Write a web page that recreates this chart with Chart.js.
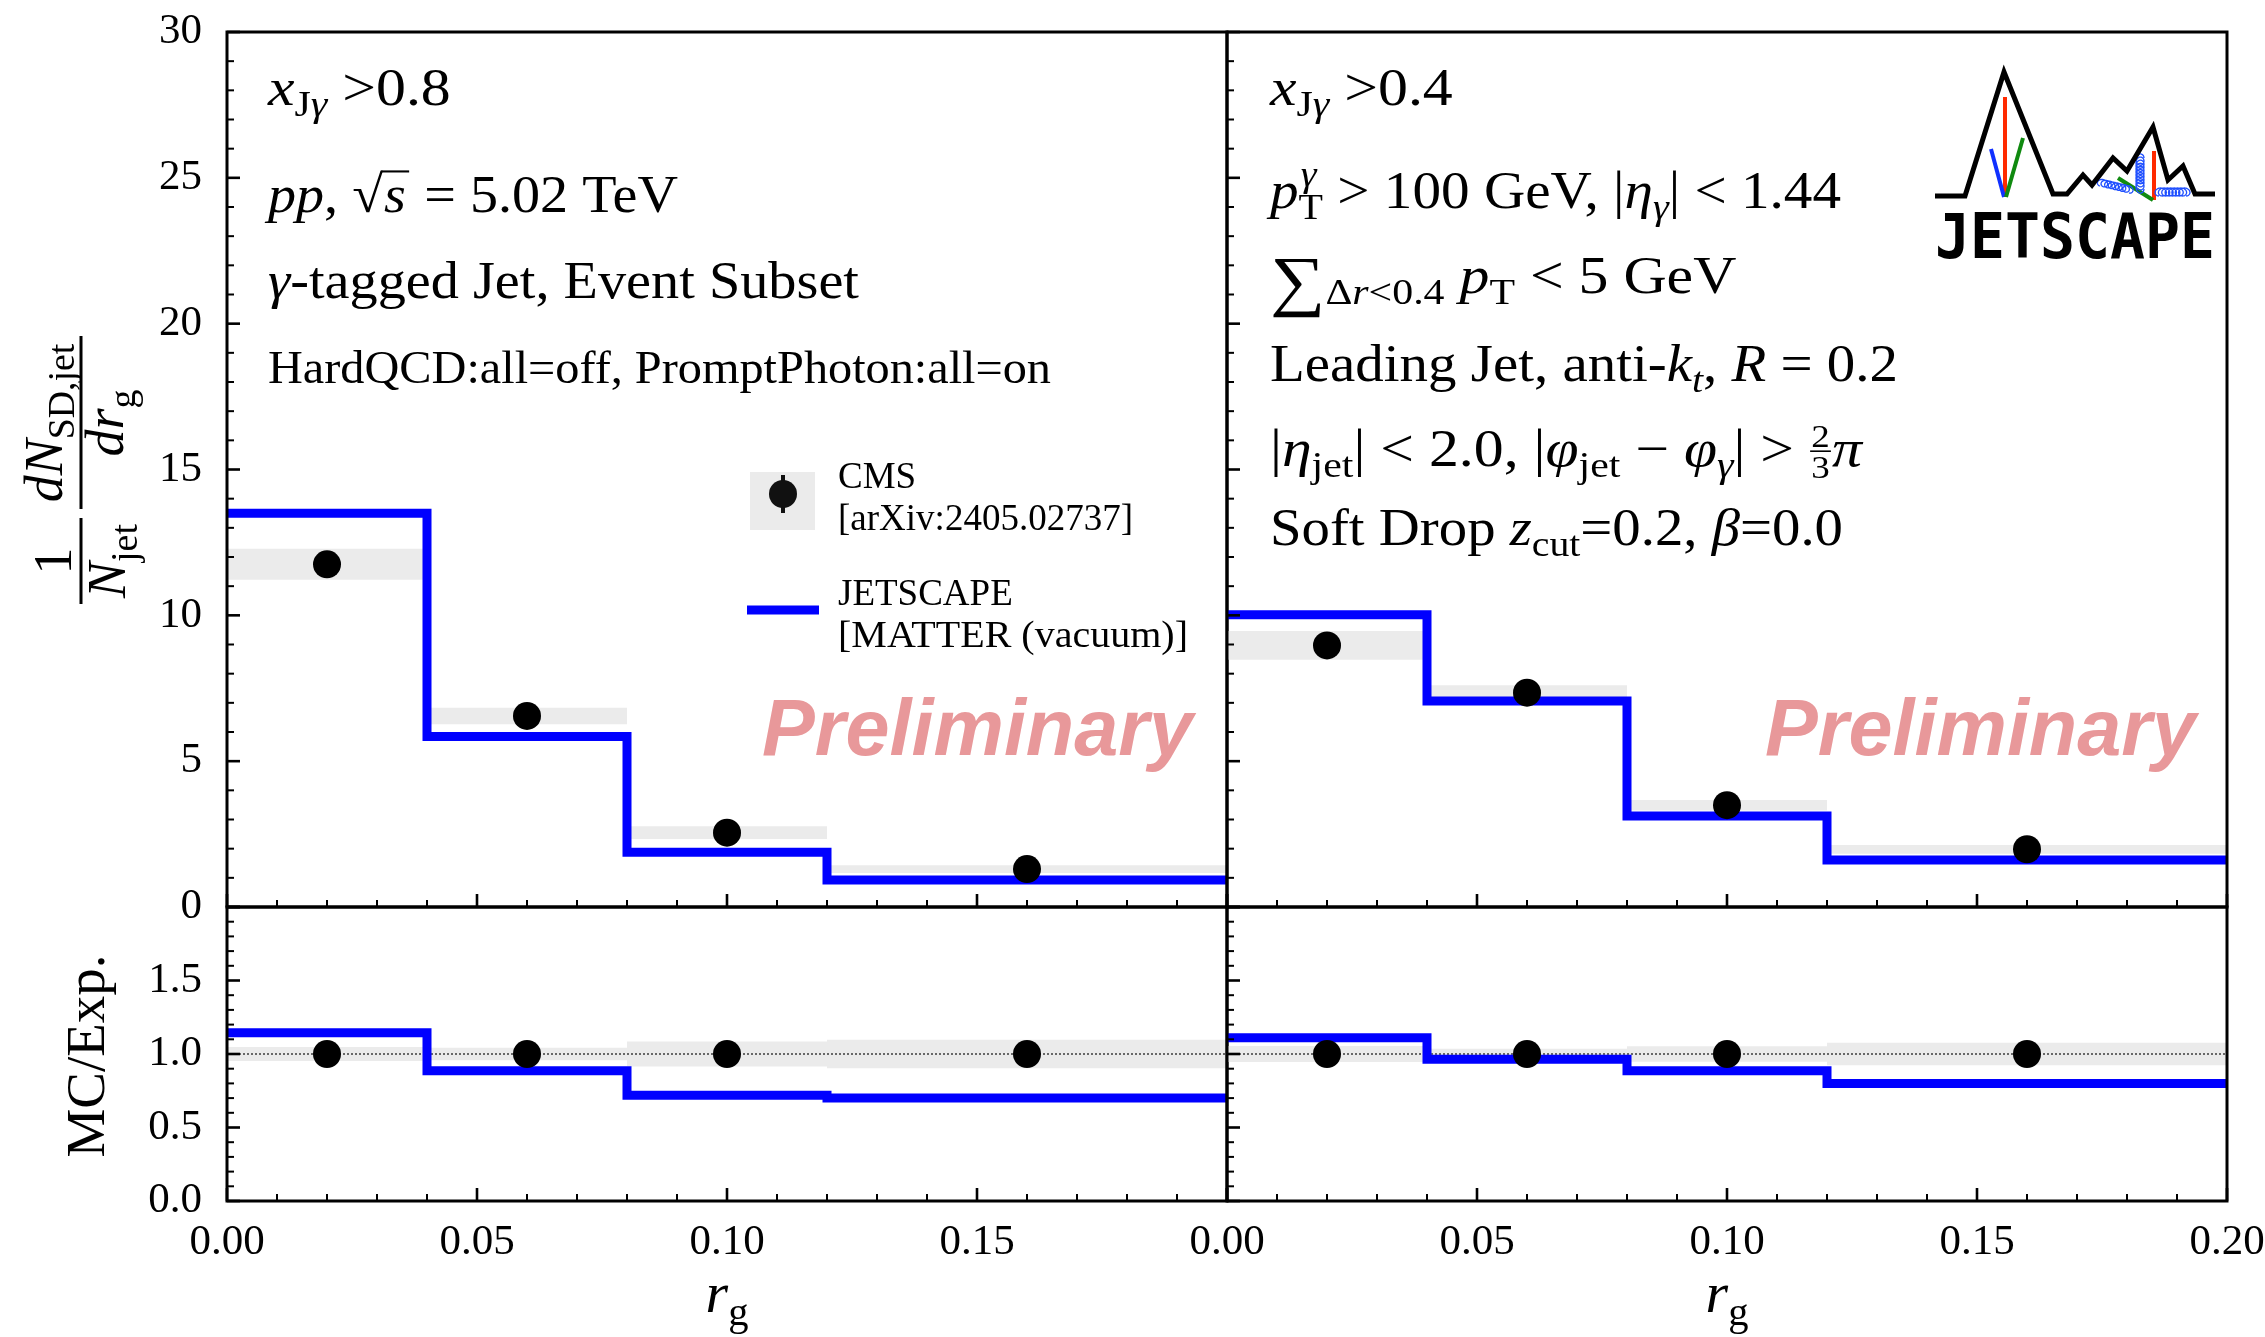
<!DOCTYPE html>
<html>
<head>
<meta charset="utf-8">
<script src="https://cdn.jsdelivr.net/npm/chart.js@4.4.1/dist/chart.umd.min.js"></script>
<style>
  html, body { margin: 0; padding: 0; background: #fff; }
  #wrap { position: relative; width: 2265px; height: 1337px; overflow: hidden; background: #fff; }
  #wrap canvas { position: absolute; left: 0; top: 0; }
</style>
</head>
<body>
<div id="wrap">
  <canvas id="topLeft" width="2265" height="1337"></canvas>
  <canvas id="topRight" width="2265" height="1337"></canvas>
  <canvas id="ratioLeft" width="2265" height="1337"></canvas>
  <canvas id="ratioRight" width="2265" height="1337"></canvas>
</div>
<script>
// r_g binning
const binEdges = [0, 0.04, 0.08, 0.12, 0.20];
const binCenters = [0.02, 0.06, 0.10, 0.16];

// x_Jgamma > 0.8
const cmsLeft = [11.75, 6.55, 2.55, 1.30];
const cmsSysLeft = [0.53, 0.28, 0.22, 0.13];
const jetscapeLeft = [13.5, 5.85, 1.88, 0.93];
const ratioLeft = [1.145, 0.886, 0.72, 0.70];
const ratioBandLeft = [0.047, 0.043, 0.085, 0.097];

// x_Jgamma > 0.4
const cmsRight = [8.97, 7.35, 3.49, 1.98];
const cmsSysRight = [0.49, 0.25, 0.18, 0.15];
const jetscapeRight = [10.02, 7.06, 3.12, 1.61];
const ratioRight = [1.11, 0.964, 0.886, 0.80];
const ratioBandRight = [0.055, 0.035, 0.052, 0.077];

const ratioCms = [1, 1, 1, 1];
const unity = 1;

// ticks
const xTicks = [0, 0.05, 0.10, 0.15, 0.20];
const yTicksTop = [0, 5, 10, 15, 20, 25, 30];
const yTicksRatio = [0.0, 0.5, 1.0, 1.5];

const SERIF = '"Liberation Serif", "DejaVu Serif", serif';
const BLUE = '#0000ff';
const BAND = '#ebebeb';
const tickFont = { family: 'Liberation Serif', size: 43 };

function fontStr(size, it) {
  return (it ? 'italic ' : '') + size.toFixed(1) + 'px ' + SERIF;
}

// little text pieces for the math-ish labels
const R = t => ({ t });
const I = t => ({ t, it: true });
const SUB = (t, it) => ({ t, it, s: 0.7, dy: 0.22 });

function layoutParts(ctx, size, parts, draw) {
  let cx = 0;
  for (const p of parts) {
    if (p.frac) {
      const fs = size * 0.62;
      ctx.font = fontStr(fs, false);
      const w = Math.max(ctx.measureText(p.frac[0]).width, ctx.measureText(p.frac[1]).width) + 4;
      if (draw) {
        ctx.textAlign = 'center';
        ctx.fillText(p.frac[0], cx + w / 2, -size * 0.37);
        ctx.fillText(p.frac[1], cx + w / 2, size * 0.24);
        ctx.fillRect(cx + 1, -size * 0.3, w - 2, 1.6);
        ctx.textAlign = 'left';
      }
      cx += w;
    } else if (p.sqrt) {
      ctx.font = fontStr(size, false);
      const wr = ctx.measureText('\u221A').width;
      ctx.font = fontStr(size, true);
      const ws = ctx.measureText(p.sqrt).width;
      if (draw) {
        ctx.font = fontStr(size, false);
        ctx.fillText('\u221A', cx, 0);
        ctx.font = fontStr(size, true);
        ctx.fillText(p.sqrt, cx + wr + 1, 0);
        ctx.fillRect(cx + wr - 2, -size * 0.80, ws + 6, Math.max(1.5, size * 0.04));
      }
      cx += wr + ws + 5;
    } else if (p.ss) {
      const fs = size * 0.7;
      ctx.font = fontStr(fs, true);
      const w1 = ctx.measureText(p.ss[0]).width;
      ctx.font = fontStr(fs, false);
      const w2 = ctx.measureText(p.ss[1]).width;
      if (draw) {
        ctx.font = fontStr(fs, true);
        ctx.fillText(p.ss[0], cx + 2, -size * 0.42);
        ctx.font = fontStr(fs, false);
        ctx.fillText(p.ss[1], cx, size * 0.22);
      }
      cx += Math.max(w1 + 2, w2);
    } else {
      const fs = size * (p.s || 1);
      ctx.font = fontStr(fs, p.it);
      if (draw) ctx.fillText(p.t, cx, size * (p.dy || 0));
      cx += ctx.measureText(p.t).width;
    }
  }
  return cx;
}

function drawLine(ctx, x, y, size, parts, targetW, align) {
  ctx.save();
  ctx.textAlign = 'left';
  ctx.textBaseline = 'alphabetic';
  ctx.fillStyle = '#000';
  const w = layoutParts(ctx, size, parts, false);
  let k = targetW ? targetW / w : 1;
  k = Math.min(1.15, Math.max(0.88, k));
  const x0 = align === 'center' ? x - (w * k) / 2 : x;
  ctx.translate(x0, y);
  ctx.scale(k, 1);
  layoutParts(ctx, size, parts, true);
  ctx.restore();
  return w * k;
}

// histogram: one point per bin edge, the last edge repeats the last bin value.
// Chart.js 'before' stepping draws horizontally first, so each bin is flat.
const steps = vals => binEdges.map((x, i) => ({ x, y: vals[Math.min(i, vals.length - 1)] }));

function bandSets(center, err) {
  const hi = center.map((v, i) => v + err[i]);
  const lo = center.map((v, i) => v - err[i]);
  return [
    { data: steps(hi), stepped: 'before', borderWidth: 0, borderColor: 'transparent', pointRadius: 0, fill: false, order: 3 },
    { data: steps(lo), stepped: 'before', borderWidth: 0, borderColor: 'transparent', pointRadius: 0, fill: '-1', backgroundColor: BAND, order: 4 }
  ];
}

// inward ticks + frame, matplotlib style
function framePlugin(p) {
  return {
    id: 'frame',
    afterDraw(chart) {
      const { ctx, chartArea: a } = chart;
      const xs = chart.scales.x, ys = chart.scales.y;
      ctx.save();
      ctx.strokeStyle = '#000';
      for (let i = 0; i <= 20; i++) {
        const major = i % 5 === 0;
        const px = xs.getPixelForValue(i / 100);
        ctx.lineWidth = major ? 2.6 : 2;
        ctx.beginPath();
        ctx.moveTo(px, a.bottom);
        ctx.lineTo(px, a.bottom - (major ? 13 : 7));
        ctx.stroke();
      }
      for (let i = 0; i <= p.yMinorCount; i++) {
        const major = i % 5 === 0;
        const py = ys.getPixelForValue(ys.min + i * p.yMinorStep);
        ctx.lineWidth = major ? 2.6 : 2;
        ctx.beginPath();
        ctx.moveTo(a.left, py);
        ctx.lineTo(a.left + (major ? 13 : 7), py);
        ctx.stroke();
      }
      ctx.lineWidth = 3;
      ctx.strokeRect(a.left, a.top, a.right - a.left, a.bottom - a.top);
      ctx.restore();
      if (p.extra) p.extra(ctx);
    }
  };
}

function makePanel(id, p) {
  const datasets = [
    { data: binCenters.map((x, i) => ({ x, y: p.points[i] })), showLine: false, pointRadius: 14,
      pointBackgroundColor: '#000', pointBorderWidth: 0, order: 0 },
    { data: steps(p.model), stepped: 'before', borderColor: BLUE, borderWidth: 9, pointRadius: 0, fill: false, order: 1 }
  ];
  if (p.unity) {
    datasets.push({ data: [{ x: binEdges[0], y: unity }, { x: binEdges[binEdges.length - 1], y: unity }],
      borderColor: '#222', borderWidth: 1.3, borderDash: [2, 2], pointRadius: 0, fill: false, order: 2 });
  }
  datasets.push(...bandSets(p.band[0], p.band[1]));

  return new Chart(document.getElementById(id), {
    type: 'line',
    data: { datasets },
    plugins: [framePlugin(p)],
    options: {
      animation: false,
      responsive: false,
      devicePixelRatio: 1,
      events: [],
      layout: { padding: p.pad },
      plugins: { legend: { display: false }, tooltip: { enabled: false } },
      scales: {
        x: {
          type: 'linear', min: 0, max: 0.2,
          display: p.xLabels,
          grid: { display: false }, border: { display: false },
          afterBuildTicks: s => { s.ticks = xTicks.map(v => ({ value: v })); },
          afterFit: s => { s.height = p.xLabels ? 136 : 0; s.paddingLeft = 0; s.paddingRight = 0; },
          ticks: {
            padding: 8, maxRotation: 0, autoSkip: false, color: '#000', font: tickFont,
            callback: v => (p.hideLastX && Math.abs(v - 0.2) < 1e-9) ? '' : v.toFixed(2)
          }
        },
        y: {
          type: 'linear', min: p.yMin, max: p.yMax,
          display: p.yLabels,
          grid: { display: false }, border: { display: false },
          afterBuildTicks: s => { s.ticks = p.yTicks.map(v => ({ value: v })); },
          afterFit: s => { s.width = p.yLabels ? 227 : 0; s.paddingTop = 0; s.paddingBottom = 0; },
          ticks: { padding: 17, color: '#000', font: tickFont, callback: p.yFmt }
        }
      }
    }
  });
}

// ---------- decorations ----------
function drawTopLeftExtras(ctx) {
  drawLine(ctx, 268, 105, 52, [I('x'), SUB('J'), SUB('\u03B3', true), R(' >0.8')], 202);
  drawLine(ctx, 268, 212, 52, [I('pp'), R(', '), { sqrt: 's' }, R(' = 5.02 TeV')], 410);
  drawLine(ctx, 268, 298, 52, [I('\u03B3'), R('-tagged Jet, Event Subset')], 591);
  drawLine(ctx, 268, 383, 46, [R('HardQCD:all=off, PromptPhoton:all=on')], 783);

  // legend
  ctx.save();
  ctx.fillStyle = BAND;
  ctx.fillRect(750, 472, 65, 58);
  ctx.fillStyle = '#111';
  ctx.fillRect(781, 475, 4, 38);
  ctx.beginPath();
  ctx.arc(783, 494, 14, 0, Math.PI * 2);
  ctx.fill();
  ctx.strokeStyle = BLUE;
  ctx.lineWidth = 9;
  ctx.beginPath();
  ctx.moveTo(747, 610);
  ctx.lineTo(819, 610);
  ctx.stroke();
  ctx.restore();
  drawLine(ctx, 838, 488, 37, [R('CMS')]);
  drawLine(ctx, 838, 530, 37, [R('[arXiv:2405.02737]')], 295);
  drawLine(ctx, 838, 605, 37, [R('JETSCAPE')]);
  drawLine(ctx, 838, 647, 37, [R('[MATTER (vacuum)]')], 350);

  drawPreliminary(ctx, 762, 755);
  drawYLabelTop(ctx);
}

function drawPreliminary(ctx, x, y) {
  ctx.save();
  ctx.font = 'italic bold 80px "Liberation Sans", Arial, sans-serif';
  ctx.fillStyle = '#e8989a';
  ctx.textBaseline = 'alphabetic';
  ctx.textAlign = 'left';
  const w = ctx.measureText('Preliminary').width;
  ctx.translate(x, y);
  ctx.scale(431 / w, 1);
  ctx.fillText('Preliminary', 0, 0);
  ctx.restore();
}

function drawYLabelTop(ctx) {
  ctx.save();
  ctx.translate(81, 470);
  ctx.rotate(-Math.PI / 2);
  ctx.fillStyle = '#000';
  const S = 54;
  // 1 / N_jet
  ctx.fillRect(-134, -1.5, 86, 3);
  drawLine(ctx, -91, -10, S, [R('1')], 0, 'center');
  drawLine(ctx, -91, 44, S, [I('N'), SUB('jet')], 0, 'center');
  // dN_SD,jet / dr_g
  ctx.fillRect(-39, -1.5, 173, 3);
  drawLine(ctx, 47, -19, S, [I('dN'), SUB('SD,jet')], 0, 'center');
  drawLine(ctx, 47, 42, S, [I('dr'), SUB('g')], 0, 'center');
  ctx.restore();
}

function drawYLabelRatio(ctx) {
  ctx.save();
  ctx.translate(104, 1056);
  ctx.rotate(-Math.PI / 2);
  drawLine(ctx, 0, 0, 54, [R('MC/Exp.')], 203, 'center');
  ctx.restore();
}

function drawXLabel(ctx, cx) {
  drawLine(ctx, cx, 1312, 58, [I('r'), SUB('g')], 0, 'center');
}

function coil(ctx, x1, y1, x2, y2, n, r) {
  const L = Math.hypot(x2 - x1, y2 - y1);
  const ux = (x2 - x1) / L, uy = (y2 - y1) / L;
  const c = L / (2 * Math.PI * n);
  ctx.beginPath();
  for (let k = 0; k <= n * 40; k++) {
    const th = (k / (n * 40)) * 2 * Math.PI * n;
    const a = c * th - r * Math.sin(th) * 0.6;
    const b = -r * (1 - Math.cos(th)) / 2;
    const px = x1 + ux * a - uy * b;
    const py = y1 + uy * a + ux * b;
    if (k === 0) ctx.moveTo(px, py); else ctx.lineTo(px, py);
  }
  ctx.stroke();
}

function drawLogo(ctx) {
  ctx.save();
  ctx.lineJoin = 'miter';
  ctx.lineCap = 'butt';
  // coloured partons
  ctx.lineWidth = 4;
  ctx.strokeStyle = '#ff2a00';
  ctx.beginPath(); ctx.moveTo(2005, 97); ctx.lineTo(2005, 197); ctx.stroke();
  ctx.beginPath(); ctx.moveTo(2154, 151); ctx.lineTo(2154, 200); ctx.stroke();
  ctx.strokeStyle = '#1030ff';
  ctx.beginPath(); ctx.moveTo(1991, 149); ctx.lineTo(2004, 197); ctx.stroke();
  ctx.strokeStyle = '#108a10';
  ctx.beginPath(); ctx.moveTo(2023, 138); ctx.lineTo(2006, 197); ctx.stroke();
  ctx.beginPath(); ctx.moveTo(2118, 178); ctx.lineTo(2153, 200); ctx.stroke();
  ctx.strokeStyle = '#2050ff';
  ctx.lineWidth = 1.3;
  coil(ctx, 2100, 186, 2129, 193, 8, 7);
  coil(ctx, 2144, 189, 2144, 158, 10, 8);
  coil(ctx, 2159, 196, 2186, 196, 8, 8);
  // mountain outline
  ctx.strokeStyle = '#000';
  ctx.lineWidth = 5;
  const pts = [[1935, 196], [1965, 196], [2004, 72], [2053, 194], [2067, 194], [2083, 175], [2092, 185],
    [2113, 158], [2127, 171], [2153, 127], [2168, 180], [2183, 166], [2195, 194], [2215, 194]];
  ctx.beginPath();
  pts.forEach(([x, y], i) => (i ? ctx.lineTo(x, y) : ctx.moveTo(x, y)));
  ctx.stroke();
  // word mark
  ctx.fillStyle = '#000';
  ctx.font = 'bold 62px "DejaVu Sans Mono", monospace';
  ctx.textBaseline = 'alphabetic';
  ctx.textAlign = 'left';
  const w = ctx.measureText('JETSCAPE').width;
  ctx.translate(1935, 258);
  ctx.scale(280 / w, 1);
  ctx.fillText('JETSCAPE', 0, 0);
  ctx.restore();
}

function drawTopRightExtras(ctx) {
  const X = 1270;
  drawLine(ctx, X, 105, 52, [I('x'), SUB('J'), SUB('\u03B3', true), R(' >0.4')], 202);
  drawLine(ctx, X, 208, 52, [I('p'), { ss: ['\u03B3', 'T'] }, R(' > 100 GeV, |'), I('\u03B7'), SUB('\u03B3', true), R('| < 1.44')], 571);
  drawLine(ctx, X, 293, 52, [{ t: '\u2211', s: 1.3, dy: 0.2 }, SUB('\u0394'), SUB('r', true), SUB('<0.4'), R(' '), I('p'), SUB('T'), R(' < 5 GeV')], 484);
  drawLine(ctx, X, 381, 52, [R('Leading Jet, anti-'), I('k'), SUB('t', true), R(', '), I('R'), R(' = 0.2')], 628);
  drawLine(ctx, X, 466, 52, [R('|'), I('\u03B7'), SUB('jet'), R('| < 2.0, |'), I('\u03C6'), SUB('jet'), R(' \u2212 '),
    I('\u03C6'), SUB('\u03B3', true), R('| > '), { frac: ['2', '3'] }, I('\u03C0')], 592);
  drawLine(ctx, X, 545, 52, [R('Soft Drop '), I('z'), SUB('cut'), R('=0.2, '), I('\u03B2'), R('=0.0')], 573);
  drawLogo(ctx);
  drawPreliminary(ctx, 1765, 755);
}

// ---------- panels ----------
const topFmt = v => String(v);
const ratioFmt = v => v.toFixed(1);

makePanel('topLeft', {
  points: cmsLeft, model: jetscapeLeft, band: [cmsLeft, cmsSysLeft],
  pad: { left: 0, top: 32, right: 1038, bottom: 430 },
  xLabels: false, yLabels: true, yMin: 0, yMax: 30, yTicks: yTicksTop, yFmt: topFmt,
  yMinorCount: 30, yMinorStep: 1, extra: drawTopLeftExtras
});

makePanel('topRight', {
  points: cmsRight, model: jetscapeRight, band: [cmsRight, cmsSysRight],
  pad: { left: 1227, top: 32, right: 38, bottom: 430 },
  xLabels: false, yLabels: false, yMin: 0, yMax: 30, yTicks: yTicksTop, yFmt: topFmt,
  yMinorCount: 30, yMinorStep: 1, extra: drawTopRightExtras
});

makePanel('ratioLeft', {
  points: ratioCms, model: ratioLeft, band: [ratioCms, ratioBandLeft], unity: true,
  pad: { left: 0, top: 907, right: 1038, bottom: 0 },
  xLabels: true, hideLastX: true, yLabels: true, yMin: 0, yMax: 2, yTicks: yTicksRatio, yFmt: ratioFmt,
  yMinorCount: 20, yMinorStep: 0.1,
  extra: ctx => { drawYLabelRatio(ctx); drawXLabel(ctx, 727); }
});

makePanel('ratioRight', {
  points: ratioCms, model: ratioRight, band: [ratioCms, ratioBandRight], unity: true,
  pad: { left: 1227, top: 907, right: 38, bottom: 0 },
  xLabels: true, yLabels: false, yMin: 0, yMax: 2, yTicks: yTicksRatio, yFmt: ratioFmt,
  yMinorCount: 20, yMinorStep: 0.1,
  extra: ctx => { drawXLabel(ctx, 1727); }
});
</script>
</body>
</html>
